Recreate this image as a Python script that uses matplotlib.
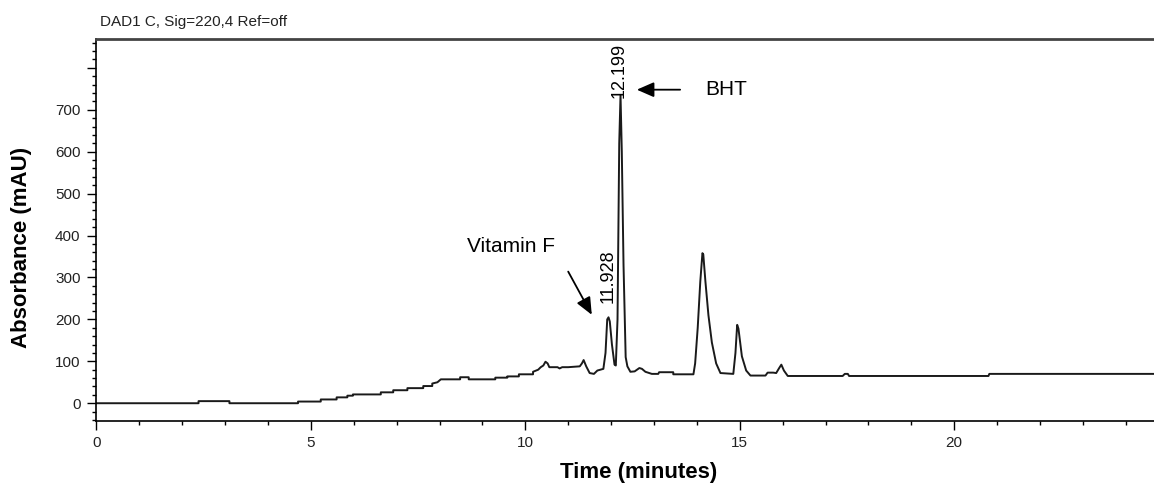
import numpy as np
import matplotlib
matplotlib.use('Agg')
import matplotlib.pyplot as plt
from matplotlib.ticker import MultipleLocator, FuncFormatter

plt.rcParams['font.family'] = ['Liberation Sans', 'DejaVu Sans']

# chromatogram trace (time in minutes, absorbance in mAU)
times = [0, 2.38, 2.38, 3.1, 3.1, 4.7, 4.7, 5.23, 5.23, 5.6, 5.6, 5.85, 5.85, 5.98, 5.98,
         6.63, 6.63, 6.92, 6.92, 7.25, 7.25, 7.62, 7.62, 7.83, 7.83, 7.95, 8.03, 8.48, 8.48,
         8.68, 8.68, 9.3, 9.3, 9.58, 9.58, 9.85, 9.85, 10.18, 10.18, 10.3, 10.36, 10.42, 10.47,
         10.52, 10.56, 10.75, 10.8, 10.86, 11.0, 11.27, 11.32, 11.36, 11.42, 11.5, 11.6, 11.68,
         11.82, 11.87, 11.91, 11.94, 11.97, 12.02, 12.08, 12.11, 12.15, 12.19, 12.22, 12.25,
         12.29, 12.34, 12.38, 12.45, 12.55, 12.66, 12.72, 12.8, 12.95, 13.1, 13.12, 13.45,
         13.45, 13.92, 13.96, 14.02, 14.08, 14.13, 14.15, 14.2, 14.27, 14.35, 14.45, 14.55,
         14.85, 14.9, 14.94, 14.97, 15.05, 15.15, 15.25, 15.6, 15.65, 15.78, 15.85, 15.92,
         15.97, 16.03, 16.12, 17.4, 17.45, 17.52, 17.55, 20.8, 20.82, 24.66]
absorbance = [0, 0, 5, 5, 0, 0, 4, 4, 9, 9, 14, 14, 18, 18, 21,
              21, 26, 26, 31, 31, 36, 36, 41, 41, 47, 50, 57, 57, 62,
              62, 57, 57, 61, 61, 64, 64, 69, 69, 75, 80, 86, 90, 99,
              95, 86, 86, 83, 86, 86, 88, 95, 103, 88, 72, 70, 78,
              82, 120, 200, 205, 195, 140, 92, 90, 200, 620, 735, 600,
              330, 110, 88, 75, 76, 84, 82, 75, 70, 70, 74, 74,
              69, 69, 95, 180, 290, 358, 355, 290, 210, 145, 95, 72,
              70, 120, 187, 178, 112, 78, 66, 66, 73, 73, 72, 84,
              92, 78, 65, 65, 70, 70, 65, 65, 70, 70]

peak_labels = ['11.928', '12.199']
peak_label_y = [240, 728]

fig = plt.figure(figsize=(11.54, 4.87), dpi=100)
ax = fig.add_axes([0.0836, 0.135, 0.9164, 0.785])

ax.plot(times, absorbance, color='#1a1a1a', linewidth=1.4)

ax.set_xlim(0, 24.66)
ax.set_ylim(-43, 869)

# оси и деления
ax.xaxis.set_major_locator(MultipleLocator(5))
ax.xaxis.set_minor_locator(MultipleLocator(1))
ax.yaxis.set_major_locator(MultipleLocator(100))
ax.yaxis.set_minor_locator(MultipleLocator(20))
ax.yaxis.set_major_formatter(FuncFormatter(lambda v, p: '' if v > 700 else f'{v:.0f}'))
ax.tick_params(which='major', length=6.5, width=1, labelsize=11, color='black', labelcolor='#222222')
ax.tick_params(axis='y', which='major', pad=5)
ax.tick_params(axis='x', which='major', pad=4)
ax.tick_params(which='minor', length=3.2, width=1, color='black')

ax.spines['right'].set_visible(False)
ax.spines['top'].set_color('#444444')
ax.spines['top'].set_linewidth(2)
ax.spines['left'].set_linewidth(1.2)
ax.spines['bottom'].set_linewidth(1.2)

# подписи пиков
for lab, ly in zip(peak_labels, peak_label_y):
    ax.text(float(lab), ly, lab, rotation=90, ha='center', va='bottom', fontsize=13)

# стрелки
arrow = dict(arrowstyle='-|>,head_length=0.8,head_width=0.35', mutation_scale=13,
             color='black', lw=1.3, shrinkA=0, shrinkB=0)
ax.annotate('', xy=(11.55, 211), xytext=(11.0, 314), arrowprops=arrow)
ax.text(8.64, 375, 'Vitamin F', ha='left', va='center', fontsize=15)
ax.annotate('', xy=(12.6, 748), xytext=(13.61, 748), arrowprops=arrow)
ax.text(14.19, 748, 'BHT', ha='left', va='center', fontsize=15)

fig.text(0.0867, 0.955, 'DAD1 C, Sig=220,4 Ref=off', ha='left', va='center', fontsize=11, color='#222222')
fig.text(0.553, 0.029, 'Time (minutes)', ha='center', va='center', fontsize=16, fontweight='bold')
fig.text(0.019, 0.492, 'Absorbance (mAU)', ha='center', va='center', rotation=90,
         fontsize=16, fontweight='bold')

fig.savefig('out.png', dpi=100)
